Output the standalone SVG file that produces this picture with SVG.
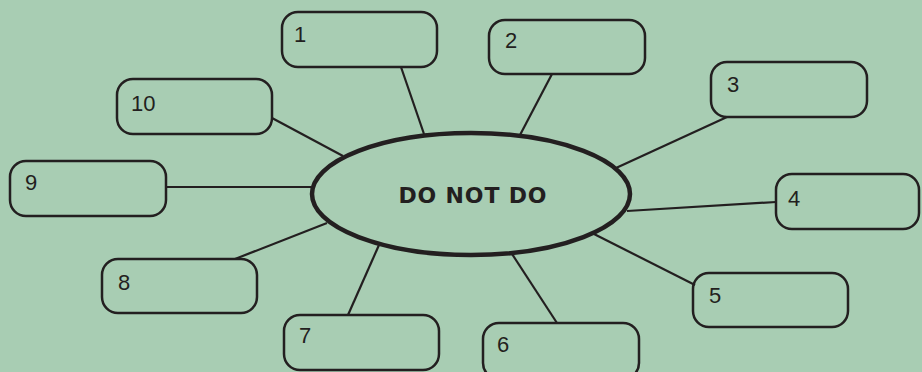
<svg xmlns="http://www.w3.org/2000/svg" width="922" height="372" viewBox="0 0 922 372">
<style>
.box{fill:none;stroke:#231f20;stroke-width:2.5}
.lbl{font-family:"Liberation Sans",Arial,sans-serif;font-size:22px;fill:#231f20}
.con line{stroke:#231f20;stroke-width:2.2}
.hub{fill:none;stroke:#231f20;stroke-width:4.5}
.title{font-family:"DejaVu Sans",sans-serif;font-weight:bold;font-size:22px;fill:#231f20;text-anchor:middle}
</style>
<rect width="922" height="372" fill="#a8cdb3"/>
<g id="connectors" class="con">
<line x1="401" y1="67" x2="424" y2="134"/>
<line x1="552" y1="74" x2="520" y2="135"/>
<line x1="727" y1="117" x2="616" y2="168"/>
<line x1="776" y1="202" x2="627" y2="211"/>
<line x1="695" y1="285" x2="594" y2="234"/>
<line x1="557" y1="323" x2="512" y2="254"/>
<line x1="348" y1="315" x2="379" y2="245"/>
<line x1="235" y1="259" x2="327" y2="223"/>
<line x1="166" y1="187" x2="311" y2="187"/>
<line x1="272" y1="118" x2="343" y2="156"/>
</g>
<g id="hub">
<ellipse class="hub" cx="471" cy="194" rx="159" ry="61"/>
<text class="title" x="472.5" y="203" textLength="148" lengthAdjust="spacing">DO NOT DO</text>
</g>
<g id="n1"><rect class="box" x="282" y="12" width="155" height="55" rx="16"/><text class="lbl" x="294" y="42">1</text></g>
<g id="n2"><rect class="box" x="489" y="20" width="156" height="54" rx="16"/><text class="lbl" x="505" y="48">2</text></g>
<g id="n3"><rect class="box" x="711" y="62" width="156" height="55" rx="16"/><text class="lbl" x="727" y="92">3</text></g>
<g id="n4"><rect class="box" x="776" y="174" width="143" height="55" rx="16"/><text class="lbl" x="788" y="206">4</text></g>
<g id="n5"><rect class="box" x="693" y="273" width="155" height="54" rx="16"/><text class="lbl" x="709" y="303">5</text></g>
<g id="n6"><rect class="box" x="483" y="323" width="156" height="56" rx="16"/><text class="lbl" x="497" y="352">6</text></g>
<g id="n7"><rect class="box" x="284" y="315" width="155" height="55" rx="16"/><text class="lbl" x="299" y="343">7</text></g>
<g id="n8"><rect class="box" x="102" y="259" width="155" height="54" rx="16"/><text class="lbl" x="118" y="290">8</text></g>
<g id="n9"><rect class="box" x="10" y="161" width="156" height="55" rx="16"/><text class="lbl" x="25" y="190">9</text></g>
<g id="n10"><rect class="box" x="117" y="79" width="155" height="55" rx="16"/><text class="lbl" x="131" y="111">10</text></g>
</svg>
